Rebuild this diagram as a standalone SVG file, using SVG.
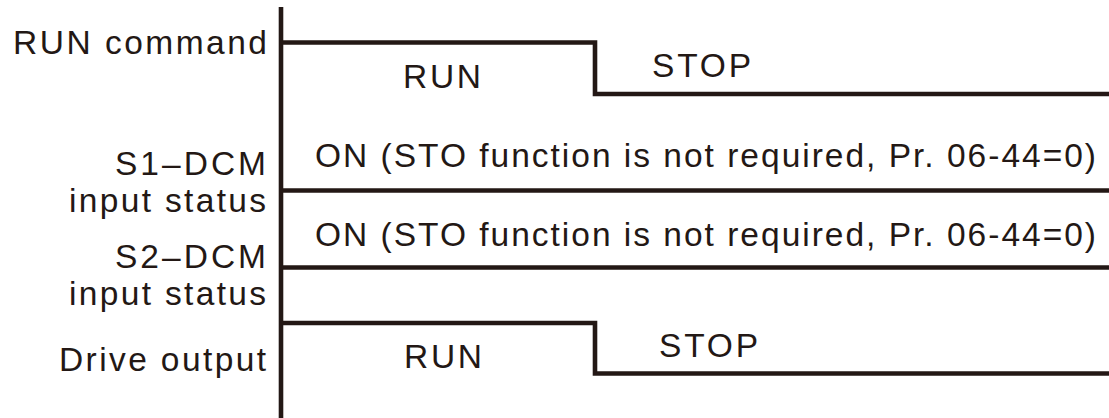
<svg xmlns="http://www.w3.org/2000/svg" width="1109" height="418" viewBox="0 0 1109 418">
<style>
text{font-family:"Liberation Sans",Arial,sans-serif;font-size:33.5px;fill:#231815}
.w{fill:none;stroke:#231815;stroke-width:4.6;stroke-linejoin:miter;stroke-linecap:butt}
</style>
<rect width="1109" height="418" fill="#fff"/>
<g id="labels">
<text x="13" y="54" textLength="254" lengthAdjust="spacing">RUN command</text>
<text x="115" y="175" textLength="151" lengthAdjust="spacing">S1–DCM</text>
<text x="69" y="212" textLength="197" lengthAdjust="spacing">input status</text>
<text x="115" y="268" textLength="151" lengthAdjust="spacing">S2–DCM</text>
<text x="69" y="305" textLength="197" lengthAdjust="spacing">input status</text>
<text x="59" y="371" textLength="207" lengthAdjust="spacing">Drive output</text>
</g>
<g id="connectors">
<line class="w" x1="281" y1="7" x2="281" y2="418"/>
<polyline id="run-cmd" class="w" points="281,42.5 595,42.5 595,94 1109,94"/>
<line id="s1" class="w" x1="281" y1="190.5" x2="1109" y2="190.5"/>
<line id="s2" class="w" x1="281" y1="267.5" x2="1109" y2="267.5"/>
<polyline id="drive" class="w" points="281,323 595,323 595,373.5 1109,373.5"/>
</g>
<g id="signal-text">
<text x="403" y="88" textLength="78" lengthAdjust="spacing">RUN</text>
<text x="652" y="77" textLength="99" lengthAdjust="spacing">STOP</text>
<text x="315" y="167" textLength="781" lengthAdjust="spacing">ON (STO function is not required, Pr. 06-44=0)</text>
<text x="315" y="246" textLength="781" lengthAdjust="spacing">ON (STO function is not required, Pr. 06-44=0)</text>
<text x="404" y="368" textLength="78" lengthAdjust="spacing">RUN</text>
<text x="659" y="357" textLength="99" lengthAdjust="spacing">STOP</text>
</g>
</svg>
